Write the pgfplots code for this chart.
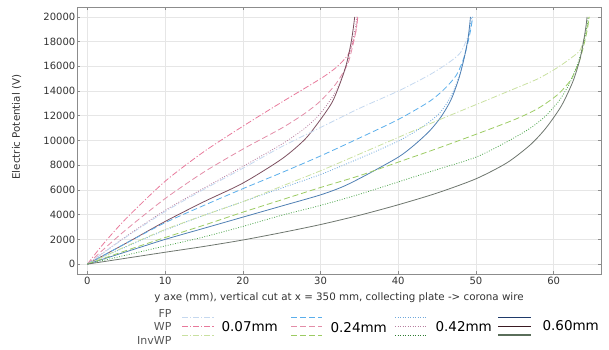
\documentclass[border=0pt]{standalone}
\usepackage{fontspec}
\setmainfont{DejaVu Sans}
\usepackage{pgfplots}
\pgfplotsset{compat=1.18}
\definecolor{fp07}{HTML}{C5D8EF}
\definecolor{fp24}{HTML}{5AAEEB}
\definecolor{fp42}{HTML}{6FA8DC}
\definecolor{fp60}{HTML}{4F7FB3}
\definecolor{wp07}{HTML}{E8799B}
\definecolor{wp24}{HTML}{E38DA8}
\definecolor{wp42}{HTML}{B87FA0}
\definecolor{wp60}{HTML}{7D5060}
\definecolor{inv07}{HTML}{C9E0A0}
\definecolor{inv24}{HTML}{9CCB62}
\definecolor{inv42}{HTML}{4FA64F}
\definecolor{inv60}{HTML}{6E766E}
\definecolor{lfp60}{HTML}{1F3A6A}
\definecolor{lwp60}{HTML}{3A1A22}
\definecolor{linv60}{HTML}{5A6E5A}
\definecolor{linv42}{HTML}{2E7D32}
\definecolor{gridgray}{HTML}{E6E6E6}
\definecolor{axisgray}{HTML}{8C8C8C}
\definecolor{labelgray}{HTML}{333333}
\definecolor{rowgray}{HTML}{555555}
\tikzset{
  dd/.style={dash pattern=on 6pt off 2pt on 1.2pt off 2pt},
  dsh/.style={dash pattern=on 6pt off 3pt},
  dtt/.style={dash pattern=on 0.9pt off 1.6pt},
}
\begin{document}
\begin{tikzpicture}
\begin{axis}[
  scale only axis, width=524pt, height=267pt,
  xmin=-1.34, xmax=66.1, ymin=-800, ymax=20800,
  xtick={0,10,...,60}, ytick={0,2000,...,20000},
  scaled y ticks=false, scaled x ticks=false,
  grid=major, major grid style={color=gridgray, line width=0.6pt},
  axis line style={color=axisgray, line width=0.8pt},
  tick style={color=axisgray, line width=0.6pt}, major tick length=3pt,
  tick align=inside,
  ticklabel style={font=\fontsize{10}{12}\selectfont, text=labelgray},
  /pgf/number format/assume math mode=true,
  /pgf/number format/1000 sep={},
  yticklabel style={inner sep=1.5pt},
  xlabel={y axe (mm), vertical cut at x = 350 mm, collecting plate -> corona wire},
  ylabel={Electric Potential (V)},
  every axis x label/.style={at={(axis description cs:0.5,-0.09)}, anchor=center, font=\fontsize{10.3}{12}\selectfont, text=labelgray},
  every axis y label/.style={at={(axis description cs:-0.115,0.55)}, rotate=90, anchor=center, font=\fontsize{10.3}{12}\selectfont, text=labelgray},
  every axis plot/.append style={line width=0.8pt, smooth, tension=0.45},
]
% WP group
\addplot[wp07, dd] coordinates {(0,0) (2,1600) (5,3700) (10,6700) (15,9100) (20,11150) (25,13100) (30,15000) (32,15900) (33.5,16900) (34.2,18000) (34.6,19000) (34.8,20000)};
\addplot[wp24, dsh] coordinates {(0,0) (2,1150) (5,2800) (10,5300) (15,7450) (20,9300) (25,11000) (28,12200) (30,13200) (32,14600) (33.5,16200) (34.2,17800) (34.6,19000) (34.75,20000)};
\addplot[wp42, dtt] coordinates {(0,0) (5,2250) (10,4350) (15,6150) (20,7900) (25,9700) (28,11000) (30,12200) (32,14000) (33.3,16000) (34.1,18000) (34.5,19200) (34.65,20000)};
\addplot[wp60] coordinates {(0,0) (5,1700) (10,3450) (15,5050) (20,6550) (25,8500) (28,10100) (30,11700) (31.5,13100) (32.5,14600) (33.3,16100) (33.9,17800) (34.2,19000) (34.4,20000)};
% FP group
\addplot[fp07, dd] coordinates {(0,0) (5,2200) (10,4250) (15,6050) (20,7750) (25,9500) (30,11050) (35,12600) (40,14000) (44,15300) (46.5,16300) (48,17100) (48.9,18300) (49.4,19300) (49.6,20000)};
\addplot[fp24, dsh] coordinates {(0,0) (5,1700) (10,3350) (15,4750) (20,6100) (25,7400) (30,8750) (35,10200) (40,11700) (44,13150) (46,14200) (47.5,15300) (48.4,16600) (49,18000) (49.4,19200) (49.55,20000)};
\addplot[fp42, dtt] coordinates {(0,0) (5,1400) (10,2750) (15,3950) (20,5050) (25,6150) (30,7250) (35,8550) (40,9950) (43,11050) (45.3,12200) (46.8,13600) (47.9,15300) (48.6,17000) (49.1,18600) (49.45,20000)};
\addplot[fp60] coordinates {(0,0) (5,1000) (10,2000) (15,2900) (20,3800) (25,4700) (30,5600) (33,6300) (36,7250) (40,8650) (42,9600) (44,10750) (45.5,11900) (46.8,13300) (47.8,15000) (48.5,16700) (49,18300) (49.3,20000)};
% InvWP group
\addplot[inv07, dd] coordinates {(0,0) (5,1450) (10,2800) (15,3950) (20,5050) (25,6300) (30,7550) (35,8900) (40,10250) (45,11600) (50,12900) (55,14200) (58,15000) (60.5,15900) (62.3,16700) (63.4,17300) (64,18400) (64.4,19400) (64.6,20000)};
\addplot[inv24, dsh] coordinates {(0,0) (5,1100) (10,2150) (15,3150) (20,4200) (25,5200) (30,6200) (35,7150) (40,8250) (45,9350) (50,10500) (55,11700) (58,12600) (60.5,13700) (62.2,14900) (63.3,16400) (64,18000) (64.4,19200) (64.55,20000)};
\addplot[inv42, dtt] coordinates {(0,0) (5,730) (10,1470) (15,2200) (20,3050) (25,3950) (30,4750) (35,5650) (40,6650) (45,7650) (50,8650) (54,9900) (57,11000) (59,12000) (60.8,13300) (62.2,14800) (63.2,16400) (63.9,18000) (64.3,19300) (64.45,20000)};
\addplot[inv60] coordinates {(0,0) (5,480) (10,960) (15,1430) (20,1950) (25,2550) (30,3200) (35,3950) (40,4800) (45,5750) (50,6900) (54,8200) (57,9650) (59,11000) (61,12800) (62.5,14800) (63.4,16600) (63.9,18200) (64.2,19400) (64.3,20000)};
\end{axis}
% custom legend
\begin{scope}[font=\fontsize{11}{12}\selectfont]
\node[anchor=east, text=rowgray] at (98pt,-39pt) {FP};
\node[anchor=east, text=rowgray] at (98pt,-52pt) {WP};
\node[anchor=east, text=rowgray] at (98pt,-66pt) {InvWP};
\end{scope}
\begin{scope}[line width=1pt]
% 0.07
\draw[fp07, dd] (105pt,-43pt) -- (138pt,-43pt);
\draw[wp07, dd] (105pt,-52pt) -- (138pt,-52pt);
\draw[inv07, dd] (105pt,-61pt) -- (138pt,-61pt);
% 0.24
\draw[fp24, dsh] (214pt,-43pt) -- (245pt,-43pt);
\draw[wp24, dsh] (214pt,-52pt) -- (245pt,-52pt);
\draw[inv24, dsh] (214pt,-61pt) -- (245pt,-61pt);
% 0.42
\draw[fp42, dtt] (318pt,-43pt) -- (350pt,-43pt);
\draw[wp42, dtt] (318pt,-52pt) -- (350pt,-52pt);
\draw[linv42, dtt] (318pt,-61pt) -- (350pt,-61pt);
% 0.60
\draw[lfp60] (421pt,-43pt) -- (454pt,-43pt);
\draw[lwp60] (421pt,-52pt) -- (454pt,-52pt);
\draw[linv60, line width=1.8pt] (421pt,-61pt) -- (454pt,-61pt);
\end{scope}
\begin{scope}[font=\fontsize{13.5}{15}\selectfont, text=black]
\node[anchor=west] at (141pt,-53pt) {0.07mm};
\node[anchor=west] at (250pt,-54pt) {0.24mm};
\node[anchor=west] at (355pt,-53pt) {0.42mm};
\node[anchor=west] at (462pt,-52pt) {0.60mm};
\end{scope}
\pgfresetboundingbox
\useasboundingbox (-77pt,-75pt) rectangle (532pt,274pt);
\end{tikzpicture}
\end{document}
